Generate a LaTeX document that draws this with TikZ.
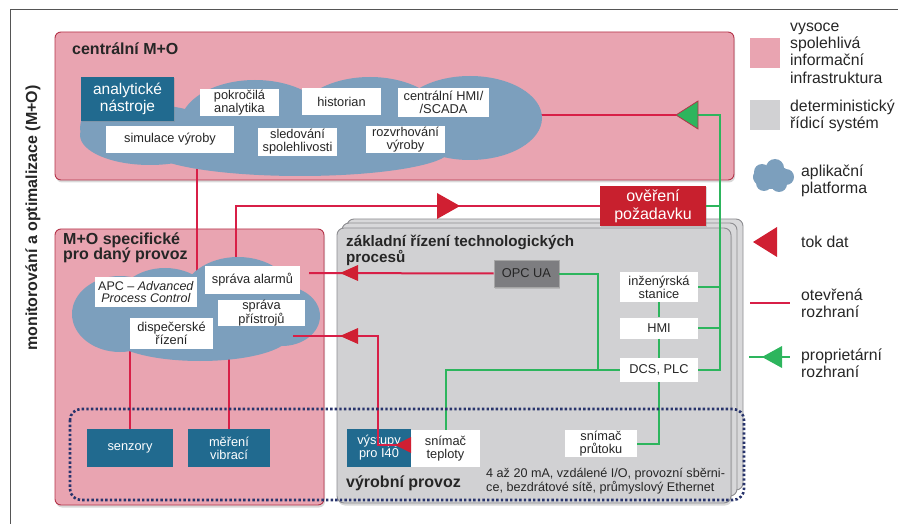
\documentclass[tikz,border=0pt]{standalone}
\usepackage{fontspec}
\setmainfont{Liberation Sans}
\usetikzlibrary{shadows}
\definecolor{pinkf}{HTML}{E9A4B1}
\definecolor{pinkd}{HTML}{B43349}
\definecolor{cloudc}{HTML}{7C9FBD}
\definecolor{tealc}{HTML}{216A8F}
\definecolor{grayf}{HTML}{D1D1D3}
\definecolor{grayb}{HTML}{D8D8DA}
\definecolor{grayd}{HTML}{8C8C90}
\definecolor{redl}{HTML}{D81F47}
\definecolor{redt}{HTML}{D01F32}
\definecolor{greenl}{HTML}{2DB55D}
\definecolor{navyd}{HTML}{28346C}
\definecolor{txt}{HTML}{262626}
\definecolor{opcf}{HTML}{7D7D80}
\definecolor{overc}{HTML}{C8202E}
\definecolor{framec}{HTML}{555555}
\begin{document}
\begin{tikzpicture}[x=1pt,y=-1pt,
  every node/.style={inner sep=0pt, text=txt},
  region/.style={draw=pinkd, fill=pinkf, line width=0.9pt, rounded corners=6pt,
    drop shadow={shadow xshift=1pt, shadow yshift=-2.5pt, opacity=0.3}},
  gbox/.style={draw=grayd, fill=grayb, line width=0.9pt, rounded corners=7pt},
  wbox/.style={fill=white, align=center, font=\fontsize{12.8}{12.8}\selectfont},
  tbox/.style={fill=tealc, text=white, align=center, font=\fontsize{12.8}{12.8}\selectfont},
  ttl/.style={font=\bfseries\fontsize{16}{15.5}\selectfont, align=left, anchor=west},
  legt/.style={font=\fontsize{15.8}{17.3}\selectfont, align=left, anchor=west},
  rline/.style={draw=redl, line width=2pt},
  gline/.style={draw=greenl, line width=2pt},
  cloudfill/.style={fill=cloudc},
  smallshadow/.style={drop shadow={shadow xshift=1pt, shadow yshift=-1.5pt, opacity=0.3}},
  pics/ltri/.style n args={3}{code={\path[#3] (0,0) -- (#1,#2/2) -- (#1,-#2/2) -- cycle;}},
  pics/rtri/.style n args={3}{code={\path[#3] (0,0) -- (-#1,#2/2) -- (-#1,-#2/2) -- cycle;}},
]
\useasboundingbox (0,0) rectangle (898,524);

% frame and side title
\draw[framec, line width=1pt] (10,524) -- (10,10) -- (898,10);
\node[rotate=90, font=\bfseries\fontsize{16}{16}\selectfont] (vtitle) at (33,218) {monitorování a optimalizace (M+O)};

% regions
\node[region, minimum width=679, minimum height=148] (central) at (394.5,106) {};
\node[region, minimum width=269, minimum height=276] (mo) at (189.5,367) {};
\node[gbox, minimum width=396, minimum height=271] (gback) at (545,354.5) {};
\node[gbox, minimum width=395, minimum height=273] (gmid) at (539.5,359.5) {};
\node[gbox, fill=grayf, minimum width=394, minimum height=275,
  drop shadow={shadow xshift=1pt, shadow yshift=-2.5pt, opacity=0.3}] (gfront) at (534,365.5) {};

\node[ttl] (ctitle) at (72,49) {centrální M+O};
\node[ttl] (motitle) at (63,248) {M+O specifické\\pro daný provoz};
\node[ttl, font=\bfseries\fontsize{15.2}{16}\selectfont] (gtitle) at (346,250) {základní řízení technologických\\procesů};
\node[ttl] (vptitle) at (346,483) {výrobní provoz};
\node[anchor=west, align=left, font=\fontsize{12.6}{11.6}\selectfont] (bustext) at (486,481.5)
  {4 až 20 mA, vzdálené I/O, provozní sběrni-\\ce, bezdrátové sítě, průmyslový Ethernet};

% coordinates
\coordinate (cc1) at (197,168);
\coordinate (mc1) at (197,272);
\coordinate (ccR) at (505,115);
\coordinate (gtip) at (676,115);
\coordinate (gbase) at (698,115);
\coordinate (busTop) at (720,115);
\coordinate (alc) at (236,265);
\coordinate (dc1) at (130,350);
\coordinate (dc2) at (229,350);
\coordinate (opcEnd) at (309,273);
\coordinate (prc) at (293,336);
\coordinate (tpc) at (411,445);
\coordinate (j1) at (598,370);

% lines under clouds
\draw[rline] (cc1) -- (mc1);
\draw[rline] (ccR) -- (gtip);
\draw[rline] (alc) |- (600,206) coordinate (ovw);
\draw[rline] (dc1) -- (130,429) coordinate (senN);
\draw[rline] (dc2) -- (229,429) coordinate (vibN);

% clouds
\fill[cloudfill]
  (150,135) ellipse [x radius=70, y radius=30]
  (112,128) ellipse [x radius=32, y radius=27]
  (255,125) ellipse [x radius=75, y radius=45]
  (370,122) ellipse [x radius=75, y radius=45]
  (470,118) ellipse [x radius=72, y radius=42]
  (300,150) ellipse [x radius=150, y radius=26];
\fill[cloudfill]
  (120,314) ellipse [x radius=48, y radius=38]
  (165,307) ellipse [x radius=50, y radius=39]
  (238,296) ellipse [x radius=55, y radius=39]
  (282,316) ellipse [x radius=38, y radius=30]
  (200,335) ellipse [x radius=90, y radius=26];
% legend cloud
\fill[cloudfill]
  (772,177) ellipse [x radius=19, y radius=12]
  (762,172) circle [radius=8]
  (775,168) circle [radius=9]
  (786,177) circle [radius=8]
  (764,183) circle [radius=8]
  (779,184) circle [radius=8];

% central boxes
\node[tbox, font=\fontsize{15.5}{17}\selectfont, minimum width=93, minimum height=44, smallshadow] (analyt) at (127.5,99) {analytické\\nástroje};
\node[wbox, minimum width=79, minimum height=27] (pokr) at (239.5,102.5) {pokročilá\\analytika};
\node[wbox, minimum width=79, minimum height=27] (hist) at (341.5,101.5) {historian};
\node[wbox, minimum width=91, minimum height=29] (scada) at (443.5,102.5) {centrální HMI/\\/SCADA};
\node[wbox, minimum width=128, minimum height=27] (simul) at (170,139.5) {simulace výroby};
\node[wbox, minimum width=79, minimum height=28] (sled) at (297.5,142) {sledování\\spolehlivosti};
\node[wbox, minimum width=79, minimum height=27] (rozvrh) at (405.5,139.5) {rozvrhování\\výroby};

% M+O boxes
\node[wbox, minimum width=102, minimum height=30, font=\fontsize{12.5}{12.8}\selectfont] (apc) at (146,292) {APC -- \textit{Advanced}\\\textit{Process Control}};
\node[wbox, minimum width=95, minimum height=28] (alarm) at (252.5,280) {správa alarmů};
\node[wbox, minimum width=87, minimum height=26] (pristr) at (261.5,313) {správa\\přístrojů};
\node[wbox, minimum width=83, minimum height=31] (disp) at (171.5,333.5) {dispečerské\\řízení};
\node[tbox, minimum width=86, minimum height=38] (senz) at (130,448) {senzory};
\node[tbox, minimum width=82, minimum height=38] (vibr) at (229,448) {měření\\vibrací};

% control system boxes
\node[fill=opcf, draw=black!35, line width=0.6pt, minimum width=65, minimum height=27,
  font=\fontsize{12.8}{12.8}\selectfont, smallshadow] (opc) at (526.5,273.5) {OPC UA};
\node[wbox, minimum width=78, minimum height=30] (inz) at (659,287) {inženýrská\\stanice};
\node[wbox, minimum width=78, minimum height=21] (hmi) at (659,328) {HMI};
\node[wbox, minimum width=78, minimum height=24] (dcs) at (659,370) {DCS, PLC};
\node[tbox, minimum width=64, minimum height=38] (vyst) at (379,448) {výstupy\\pro I40};
\node[wbox, minimum width=69, minimum height=37] (tepl) at (445.5,448.5) {snímač\\teploty};
\node[wbox, minimum width=72, minimum height=27] (prut) at (601,443.5) {snímač\\průtoku};
\node[fill=overc, text=white, align=center, font=\fontsize{16}{18}\selectfont,
  minimum width=106, minimum height=40, smallshadow] (over) at (653,206) {ověření\\požadavku};

% green (proprietary) connections
\draw[gline] (gbase) -- (busTop) |- (dcs.east);
\draw[gline] (over.east) -- (over.east -| busTop);
\draw[gline] (inz.east) -- (inz.east -| busTop);
\draw[gline] (hmi.east) -- (hmi.east -| busTop);
\draw[gline] (opc.east) -| (j1);
\draw[gline] (dcs.west) -| (tepl.north);
\draw[gline] (inz.south) -- (hmi.north);
\draw[gline] (hmi.south) -- (dcs.north);
\draw[gline] (dcs.south) |- (prut.east);

% red (open) connections over clouds
\draw[rline] (opc.west) -- (opcEnd);
\draw[rline] (tpc) -- (378,445) |- (prc);

% data-flow triangles
\pic at (gtip) {ltri={22}{28}{fill=greenl, draw=pinkd, line width=0.8pt}};
\pic at (460,206) {rtri={23}{26}{fill=redt}};
\pic at (340,273) {ltri={18}{16}{fill=redt}};
\pic at (340,336) {ltri={18}{16}{fill=redt}};
\pic at (395,445) {ltri={16}{16}{fill=redt}};

% field level (dotted)
\draw[navyd, line width=2.6pt, dash pattern=on 2.4pt off 2.2pt, rounded corners=11pt]
  (70,409) rectangle (744,500);

% legend
\fill[pinkf] (750,38) rectangle (780,68);
\fill[grayf] (750,100) rectangle (780,130);
\node[legt] (lg1) at (790,53) {vysoce\\spolehlivá\\informační\\infrastruktura};
\node[legt] (lg2) at (790,115.5) {deterministický\\řídicí systém};
\node[legt] (lg3) at (801,180.5) {aplikační\\platforma};
\node[legt] (lg4) at (801,242) {tok dat};
\node[legt] (lg5) at (801,303.5) {otevřená\\rozhraní};
\node[legt] (lg6) at (801,363) {proprietární\\rozhraní};
\pic at (753,242) {ltri={24}{30}{fill=redt}};
\draw[rline, line width=2.4pt] (750,303) coordinate (lr1) -- (790,303) coordinate (lr2);
\draw[gline, line width=2.4pt] (749,357) coordinate (lgr1) -- (790,357) coordinate (lgr2);
\pic at (762,357) {ltri={20}{22}{fill=greenl}};
\end{tikzpicture}
\end{document}
